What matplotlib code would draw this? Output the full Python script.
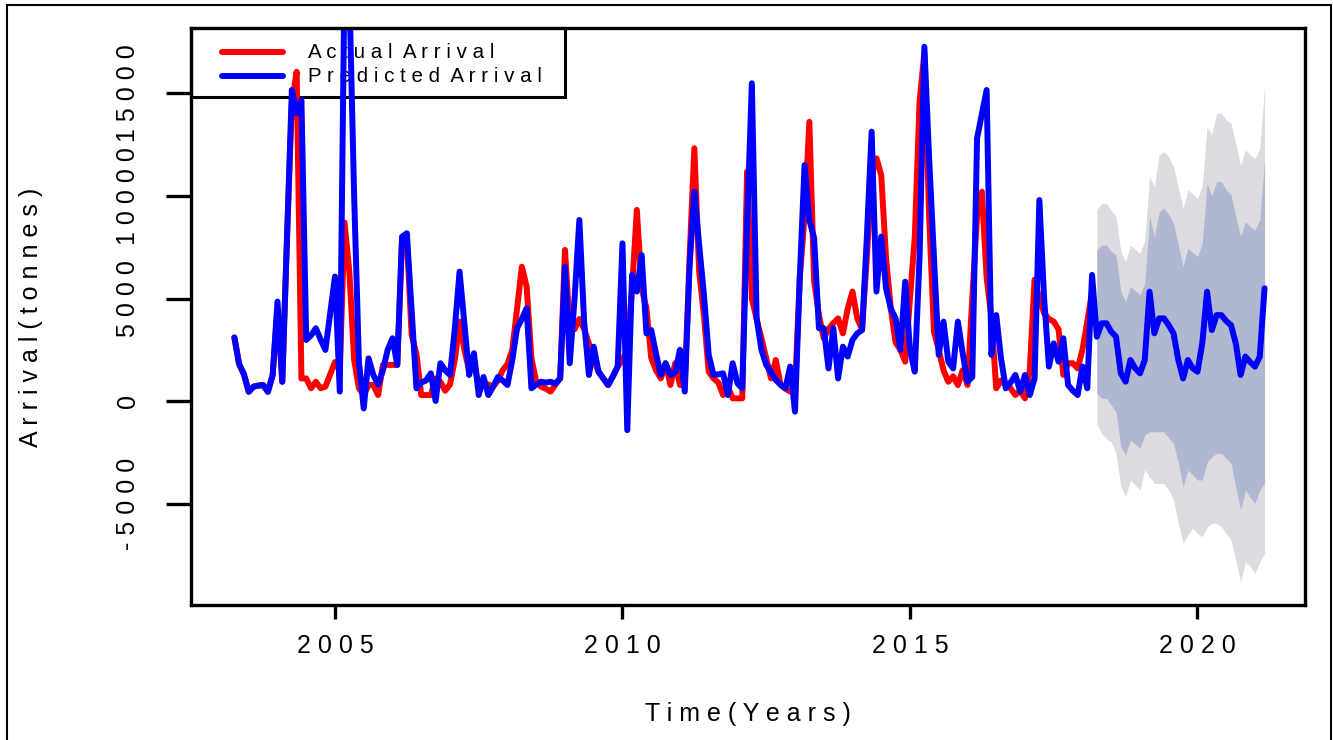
import numpy as np
import matplotlib.pyplot as plt
from matplotlib.patches import Rectangle

plt.rcParams['font.family'] = ['Liberation Sans', 'DejaVu Sans']

# monthly series, first value is April 2003
start_year = 2003.25

actual = [3100, 1800, 1300, 450, 700, 750, 780, 450, 1270, 4500,
          940, 8000, 14500, 16060, 1100, 1100, 620, 940, 620, 700,
          1300, 1900, 1500, 8700, 6300, 2000, 620, 290, 780, 780,
          290, 1760, 1760, 1760, 1760, 7900, 7900, 3220, 2300, 290,
          290, 290, 1100, 940, 500, 800, 2000, 3870, 2500, 1500,
          2000, 700, 900, 800, 700, 1000, 1500, 1800, 2500, 4500,
          6550, 5580, 2080, 940, 700, 600, 460, 800, 1100, 7370,
          3500, 3500, 4000, 3500, 2800, 2000, 1430, 1100, 780, 1200,
          1680, 2000, 2500, 5500, 9320, 5500, 4520, 2100, 1500, 1100,
          1840, 780, 1840, 780, 800, 7000, 12330, 6310, 4150, 1430,
          1100, 900, 290, 700, 130, 130, 130, 11190, 5000, 4000,
          3060, 2080, 1100, 2000, 780, 600, 460, 460, 6000, 9000,
          13620, 5830, 4200, 3060, 3500, 3800, 4030, 3300, 4500, 5340,
          4030, 3500, 7000, 11000, 11840, 11020, 7000, 4500, 2850, 2500,
          1920, 5000, 8000, 14600, 17000, 9000, 3380, 2500, 1500, 940,
          1200, 780, 1500, 780, 5000, 9000, 10210, 6000, 4030, 620,
          1000, 800, 620, 290, 500, 130, 1500, 5920, 5000, 4280,
          4000, 3870, 3500, 1270, 1840, 1840, 1590, 2500, 3870, 5340]

fitted = [3100, 1800, 1300, 450, 700, 750, 780, 450, 1270, 4850,
          940, 8000, 15170, 14030, 14680, 2980, 3200, 3550, 3000, 2490,
          4300, 6070, 460, 21000, 20000, 10000, 1900, -360, 2080, 1270,
          800, 1500, 2500, 3060, 1760, 8020, 8180, 4400, 620, 900,
          1000, 1350, 0, 1840, 1500, 1270, 3500, 6310, 3800, 1270,
          2330, 290, 1170, 290, 700, 1170, 1000, 780, 2000, 3550,
          4000, 4520, 620, 800, 940, 900, 940, 850, 1100, 6550,
          1840, 5000, 8830, 3870, 1270, 2650, 1430, 1100, 780, 1200,
          1680, 7690, -1420, 6150, 5340, 7120, 3300, 3460, 2300, 1270,
          1840, 1270, 1400, 2500, 460, 6550, 10210, 7610, 5180, 2250,
          1270, 1300, 1350, 290, 1840, 860, 620, 8590, 15500, 4030,
          2500, 1760, 1400, 1020, 800, 620, 1680, -520, 6000, 11510,
          8830, 7940, 3550, 3550, 1590, 3550, 1100, 2650, 2170, 2980,
          3300, 3460, 8000, 13140, 5340, 8020, 5500, 4500, 4030, 2500,
          5820, 2500, 1430, 7000, 17280, 11840, 7000, 2250, 3870, 1920,
          1590, 3870, 2330, 940, 1170, 12810, 14000, 15170, 2250, 4190,
          2080, 620, 900, 1270, 460, 1270, 290, 1100, 9800, 5000,
          1680, 2810, 1920, 3060, 780, 500, 290, 1680, 620, 6150]

# 36 month forecast, April 2018 - March 2021
fc_mean = [3137, 3790, 3790, 3380, 3137, 1350, 943, 2000, 1600, 1350, 2000, 5333,
           3300, 4030, 4030, 3700, 3300, 2000, 1100, 2000, 1600, 1430, 2810, 5333,
           3460, 4190, 4190, 3900, 3700, 2810, 1270, 2170, 1900, 1675, 2170, 5500]
fc_hi95 = [9317, 9640, 9640, 9300, 8990, 7285, 6800, 7610, 7400, 7200, 7850, 10940,
           10450, 12000, 12160, 11900, 11430, 10400, 9400, 10300, 10100, 9870, 10500, 13380,
           13000, 14030, 14030, 13700, 13540, 12560, 11500, 12240, 12000, 11830, 12320, 15330]
fc_hi80 = [7366, 7610, 7610, 7300, 7125, 5330, 4850, 5580, 5370, 5170, 5740, 9000,
           8010, 9230, 9400, 9100, 8660, 7600, 6560, 7450, 7250, 7040, 7700, 10610,
           10000, 10700, 10700, 10300, 10050, 9000, 8010, 8750, 8500, 8340, 8830, 11760]
fc_lo80 = [375, 130, 130, -200, -520, -2230, -2630, -1900, -2100, -2310, -1660, -1500,
           -1500, -1500, -1500, -1800, -2060, -3000, -4180, -3370, -3600, -3850, -3850, -3000,
           -2720, -2550, -2550, -2800, -3040, -4200, -5320, -4340, -4700, -4990, -4340, -4000]
fc_lo95 = [-1090, -1600, -1850, -2000, -2550, -4180, -4670, -3860, -4100, -4340, -3350, -3700,
           -4020, -4020, -4020, -4340, -4830, -5970, -6940, -6530, -6210, -6460, -6620, -6130,
           -5970, -5970, -6130, -6460, -6780, -7760, -8810, -7840, -8080, -8400, -7840, -7440]

x_ticks = [2005, 2010, 2015, 2020]
y_ticks = [-5000, 0, 5000, 10000, 15000]


def spaced(s):
    # the original output has wide letter spacing
    return " ".join(s)


n_hist = len(actual)
t_hist = start_year + np.arange(n_hist) / 12
t_fc = start_year + (n_hist + np.arange(len(fc_mean))) / 12

W, H = 1333, 740
fig = plt.figure(figsize=(W / 100, H / 100), dpi=100)
ax = fig.add_axes([191 / W, 1 - 605 / H, (1305 - 191) / W, (605 - 28) / H])

ax.fill_between(t_fc, fc_lo95, fc_hi95, color='#DBDBE0', lw=0)
ax.fill_between(t_fc, fc_lo80, fc_hi80, color='#B0B7D0', lw=0)

line_kw = dict(lw=4.3, solid_joinstyle='round', solid_capstyle='round')
ax.plot(t_hist, actual, color='#FF0000', **line_kw)
ax.plot(np.r_[t_hist, t_fc], np.r_[fitted, fc_mean], color='#0000FF', **line_kw)

ax.set_xlim(2002.496, 2021.870)
ax.set_ylim(-9951, 18195)

ax.set_xticks(x_ticks)
ax.set_xticklabels([spaced(str(v)) for v in x_ticks], fontsize=18)
ax.set_yticks(y_ticks)
ax.set_yticklabels([spaced(str(v)) for v in y_ticks], fontsize=18,
                   rotation=90, va='center')
ax.tick_params(axis='x', direction='out', length=10, width=2.4, pad=11)
ax.tick_params(axis='y', direction='out', length=18, width=2.4, pad=19)
for sp in ax.spines.values():
    sp.set_linewidth(2.4)

fig.text(748 / W, 1 - 721 / H, spaced("Time(Years)"), fontsize=18,
         ha='center', va='baseline')
fig.text(31 / W, 1 - 317 / H, spaced("Arrival(tonnes)"), fontsize=18,
         ha='center', va='center', rotation=90)

# legend box drawn by hand, sitting in the top left corner of the plot
aw, ah = 1305 - 191, 605 - 28
ax.add_patch(Rectangle((0, 1 - (97 - 28) / ah), (565 - 191) / aw, (97 - 28) / ah,
                       transform=ax.transAxes, fill=False, ec='black', lw=2.2,
                       zorder=1, clip_on=False))
legend_rows = [("Actual Arrival", '#FF0000', 52), ("Predicted Arrival", '#0000FF', 76)]
for label, col, yp in legend_rows:
    yy = 1 - (yp - 28) / ah
    ax.plot([(222 - 191) / aw, (283 - 191) / aw], [yy, yy], color=col,
            transform=ax.transAxes, zorder=1, **line_kw)
    ax.text((308 - 191) / aw, yy, spaced(label).replace("   ", "  "),
            transform=ax.transAxes, fontsize=14.8, va='center', zorder=1)

# outer frame around the whole picture
fig.add_artist(Rectangle((7 / W, -0.02), (1331 - 7) / W, 1.02 - 5 / H,
                         transform=fig.transFigure, fill=False, ec='black', lw=1.5))

fig.savefig("out.png", dpi=100)
